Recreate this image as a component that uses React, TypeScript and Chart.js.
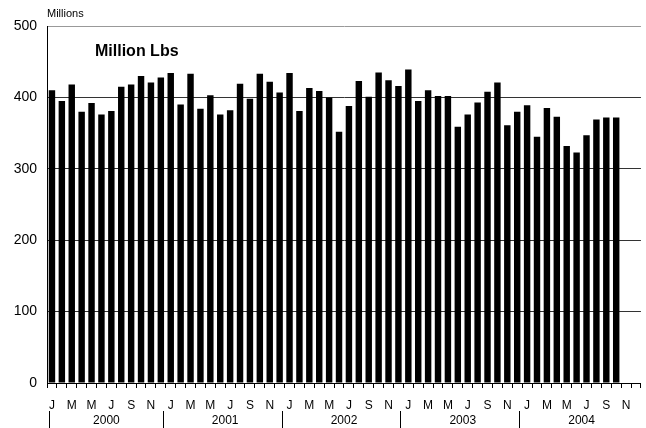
import React, { useEffect, useRef } from "react";
import { Chart, registerables } from "chart.js";

Chart.register(...registerables);

const years = ["2000", "2001", "2002", "2003", "2004"];
const monthLetters = ["J", "F", "M", "A", "M", "J", "J", "A", "S", "O", "N", "D"];

const v2000 = [410, 395, 418, 380, 392, 376, 381, 415, 418, 430, 421, 428];
const v2001 = [434, 390, 433, 384, 403, 376, 382, 419, 398, 433, 422, 407];
const v2002 = [434, 381, 413, 409, 400, 352, 388, 423, 401, 435, 424, 416];
const v2003 = [439, 395, 410, 402, 402, 359, 376, 393, 408, 421, 361, 380];
const v2004 = [389, 345, 385, 373, 332, 323, 347, 369, 372, 372, null, null];

const yTicks = [0, 100, 200, 300, 400, 500];

const FONT = "'Liberation Sans', Arial, sans-serif";

export default function App() {
  const ref = useRef<HTMLCanvasElement | null>(null);

  useEffect(() => {
    if (!ref.current) return;
    const labels: string[] = [];
    years.forEach((y) => monthLetters.forEach((m) => labels.push(m + " " + y)));
    const data = [...v2000, ...v2001, ...v2002, ...v2003, ...v2004];

    const decor = {
      id: "decor",
      afterDraw(chart: any) {
        const ctx = chart.ctx;
        const xs = chart.scales.x;
        const area = chart.chartArea;
        ctx.save();
        ctx.fillStyle = "#000";
        ctx.font = `11px ${FONT}`;
        ctx.textAlign = "left";
        ctx.textBaseline = "middle";
        ctx.fillText("Millions", 47, 14);
        ctx.font = `bold 16px ${FONT}`;
        ctx.fillText("Million Lbs", 95, 52);
        const slot = (area.right - area.left) / labels.length;
        ctx.font = `12px ${FONT}`;
        ctx.textAlign = "center";
        years.forEach((y, i) => {
          const start = xs.getPixelForValue(i * 12) - slot / 2;
          const mid = start + slot * 6;
          ctx.fillText(y, mid, 421);
          ctx.strokeStyle = "#000";
          ctx.lineWidth = 1;
          const sx = Math.round(start) + 0.5 + (i === 0 ? 2 : -3);
          ctx.beginPath();
          ctx.moveTo(sx, 411);
          ctx.lineTo(sx, 428);
          ctx.stroke();
        });
        ctx.restore();
      },
    };

    const chart = new Chart(ref.current, {
      type: "bar",
      data: {
        labels,
        datasets: [
          {
            data,
            backgroundColor: "#000",
            borderWidth: 0,
            barPercentage: 0.65,
            categoryPercentage: 1,
          },
        ],
      },
      options: {
        animation: false,
        responsive: false,
        layout: { padding: { top: 26, left: 0, right: 0, bottom: 0 } },
        plugins: { legend: { display: false }, tooltip: { enabled: false } },
        scales: {
          x: {
            afterFit: (s: any) => {
              s.height = 45;
            },
            grid: {
              drawOnChartArea: false,
              drawTicks: true,
              tickLength: 5,
              color: "#000",
            },
            border: { color: "#000", width: 1 },
            ticks: {
              autoSkip: false,
              maxRotation: 0,
              minRotation: 0,
              padding: 10,
              color: "#000",
              font: { family: FONT, size: 12 },
              callback: (_v: any, i: number) => (i % 2 === 0 ? monthLetters[i % 12] : ""),
            },
          },
          y: {
            min: 0,
            max: 500,
            afterFit: (s: any) => {
              s.width = 47;
            },
            afterBuildTicks: (s: any) => {
              s.ticks = yTicks.map((v) => ({ value: v }));
            },
            grid: {
              drawTicks: false,
              color: (c: any) => (c.tick && c.tick.value === 500 ? "#999" : "#333"),
              lineWidth: 1,
            },
            border: { color: "#000", width: 1 },
            ticks: {
              padding: 10,
              color: "#000",
              font: { family: FONT, size: 14 },
            },
          },
        },
      },
      plugins: [decor],
    });
    return () => chart.destroy();
  }, []);

  return (
    <div style={{ position: "fixed", left: 0, top: 0, width: 646, height: 428, background: "#fff" }}>
      <canvas ref={ref} width={646} height={428} style={{ width: 646, height: 428 }} />
    </div>
  );
}
